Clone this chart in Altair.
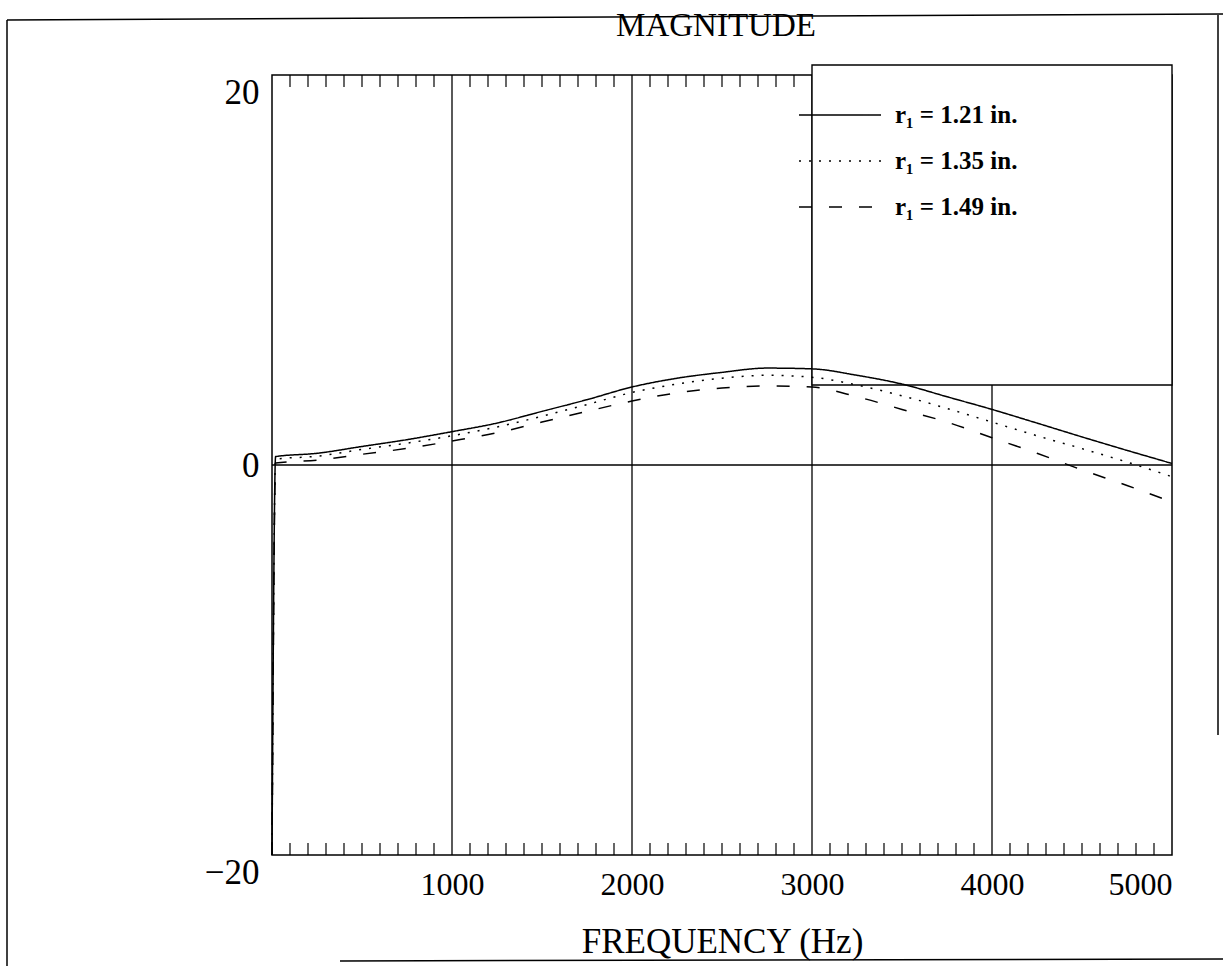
import altair as alt
import pandas as pd

# ---- data ----
freq = [0, 20, 250, 500, 750, 1000, 1250, 1500, 1750, 2000, 2250, 2500, 2750,
        3000, 3250, 3500, 3750, 4000, 4250, 4500, 4750, 5000]
mag_121 = [-20, 0.43, 0.6, 0.95, 1.3, 1.71, 2.15, 2.75, 3.35, 4.0, 4.45, 4.75, 4.97,
           4.93, 4.6, 4.15, 3.5, 2.85, 2.15, 1.44, 0.75, 0.08]
mag_135 = [-20, 0.3, 0.45, 0.8, 1.12, 1.5, 1.95, 2.5, 3.1, 3.72, 4.15, 4.45, 4.6,
           4.5, 4.1, 3.55, 2.9, 2.2, 1.5, 0.84, 0.15, -0.6]
mag_149 = [-20, 0.1, 0.25, 0.55, 0.85, 1.23, 1.65, 2.2, 2.75, 3.28, 3.7, 3.95, 4.05,
           4.0, 3.5, 2.85, 2.2, 1.4, 0.6, -0.25, -1.05, -1.9]
series = ["r\u2081 = 1.21 in.", "r\u2081 = 1.35 in.", "r\u2081 = 1.49 in."]
dashes = [[1, 0], [2, 8], [13, 17]]
title_text = ["MAGNITUDE"]

x_labels = [1000, 2000, 3000, 4000, 5000]
y_labels = [-20, 0, 20]
grid_freq = [1000, 2000, 3000, 4000]
minor_freq = [f for f in range(100, 5000, 100) if f % 1000 != 0]
legend_box_freq = [3000, 5000]
legend_box_bottom = 4.1

rows = []
for name, vals in zip(series, [mag_121, mag_135, mag_149]):
    for f, v in zip(freq, vals):
        rows.append({"freq": f, "mag": v, "series": name})
df = pd.DataFrame(rows)

W, H = 900, 780
FONT = "Liberation Serif"

xscale = alt.Scale(domain=[0, 5000], nice=False, zero=False)
yscale = alt.Scale(domain=[-20, 20], nice=False, zero=False)

X_AXIS = alt.Axis(
    values=x_labels, format="d", ticks=False, domain=False, grid=False,
    labelFont=FONT, labelFontSize=32, labelColor="black", labelPadding=14,
    title="FREQUENCY (Hz)", titleFont=FONT, titleFontSize=35,
    titleFontWeight="normal", titleColor="black", titlePadding=24,
)
Y_AXIS = alt.Axis(
    values=y_labels, format="d", ticks=False, domain=False, grid=False,
    labelFont=FONT, labelFontSize=35, labelColor="black", labelPadding=13,
    labelBaseline={"condition": {"test": "datum.value == 0", "value": "middle"},
                   "value": "top"},
    title=None,
)

# grid lines
vgrid = alt.Chart(pd.DataFrame({"freq": grid_freq})).mark_rule(
    color="black", strokeWidth=1.3
).encode(
    x=alt.X("freq:Q", scale=xscale, axis=X_AXIS),
    y=alt.YDatum(-20, scale=yscale, axis=Y_AXIS),
    y2=alt.Y2Datum(20),
)
hzero = alt.Chart(pd.DataFrame({"z": [0]})).mark_rule(
    color="black", strokeWidth=1.3
).encode(
    x=alt.XDatum(0, scale=xscale, axis=X_AXIS),
    x2=alt.X2Datum(5000),
    y=alt.Y("z:Q", scale=yscale, axis=Y_AXIS),
)

# minor ticks inside top and bottom edges
minor_df = pd.DataFrame({"freq": minor_freq})
top_ticks = alt.Chart(minor_df).mark_rule(color="black", strokeWidth=1.2).encode(
    x=alt.X("freq:Q", scale=xscale, axis=X_AXIS),
    y=alt.value(0), y2=alt.value(12),
)
bottom_ticks = alt.Chart(minor_df).mark_rule(color="black", strokeWidth=1.2).encode(
    x=alt.X("freq:Q", scale=xscale, axis=X_AXIS),
    y=alt.value(H - 12), y2=alt.value(H),
)

# legend frame (white box overlapping the plot)
box = alt.Chart(pd.DataFrame({"x0": [legend_box_freq[0]], "x1": [legend_box_freq[1]],
                              "yb": [legend_box_bottom]})).mark_rect(
    fill="white", stroke="black", strokeWidth=1.4, clip=False
).encode(
    x=alt.X("x0:Q", scale=xscale, axis=X_AXIS),
    x2="x1:Q",
    y=alt.Y("yb:Q", scale=yscale, axis=Y_AXIS),
    y2=alt.value(-10),
)

# curves
curves = alt.Chart(df).mark_line(color="black", strokeWidth=1.5, interpolate="monotone").encode(
    x=alt.X("freq:Q", scale=xscale, axis=X_AXIS),
    y=alt.Y("mag:Q", scale=yscale, axis=Y_AXIS),
    strokeDash=alt.StrokeDash(
        "series:N",
        scale=alt.Scale(domain=series, range=dashes),
        legend=alt.Legend(
            title=None, orient="none", legendX=526, legendY=20,
            symbolType="stroke", symbolSize=82 * 82, symbolStrokeWidth=1.5,
            symbolStrokeColor="black", clipHeight=40, rowPadding=6,
            labelFont=FONT, labelFontSize=25, labelFontWeight="bold",
            labelColor="black", labelOffset=13, padding=0,
        ),
    ),
    order="freq:Q",
)

# chart title drawn as text above the plot area
title = alt.Chart(pd.DataFrame({"t": title_text})).mark_text(
    font=FONT, fontSize=33, color="black", baseline="alphabetic", align="center",
    clip=False,
).encode(text="t:N", x=alt.value(W / 2 - 6), y=alt.value(-39))

# page frame lines (scan border)
def frame_rule(x1, x2, y1, y2):
    return alt.Chart(pd.DataFrame({"k": [0]})).mark_rule(
        color="black", strokeWidth=1.5, clip=False
    ).encode(x=alt.value(x1), x2=alt.value(x2), y=alt.value(y1), y2=alt.value(y2))

frame = (
    frame_rule(-265, 951, -55, -61)
    + frame_rule(-265, -265, -55, 891)
    + frame_rule(946, 946, -60, 660)
    + frame_rule(68, 951, 886, 884)
)

chart = alt.layer(vgrid, hzero, top_ticks, bottom_ticks, box, curves, title, frame).properties(
    width=W, height=H,
    autosize=alt.AutoSizeParams(type="none"),
    padding={"left": 272, "top": 75, "right": 51, "bottom": 111},
    background="white",
).configure_view(stroke="black", strokeWidth=1.5)

chart.save("out.html", embed_options={"renderer": "svg", "actions": False})
